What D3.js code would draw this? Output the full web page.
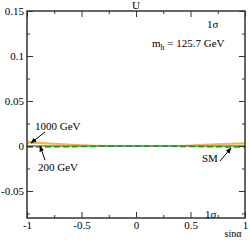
<!DOCTYPE html>
<html>
<head>
<meta charset="utf-8">
<script src="https://cdn.jsdelivr.net/npm/d3@7"></script>
<style>
  body { margin: 0; background: #fff; }
  text { font-family: "Liberation Serif", "DejaVu Serif", serif; fill: #000; }
</style>
</head>
<body>
<svg id="chart" width="250" height="240"></svg>
<script>
const sinA = [-1, -0.75, -0.5, -0.25, 0, 0.25, 0.5, 0.75, 1];
const band1000Hi = [0.0055, 0.0035, 0.002, 0.001, 0.0008, 0.001, 0.0018, 0.003, 0.0042];
const band1000Lo = [0.0025, 0.0015, 0.0008, 0.0003, 0.0002, 0.0003, 0.0007, 0.0012, 0.0018];
const line200 = [-0.0012, -0.0009, -0.0006, -0.0003, -0.0002, -0.0003, -0.0006, -0.0009, -0.0012];
const lineSM = [0, 0, 0, 0, 0, 0, 0, 0, 0];
const xMajor = [-1, -0.5, 0, 0.5, 1];
const xMinor = [-0.75, -0.25, 0.25, 0.75];
const yMajor = [-0.05, 0, 0.05, 0.1, 0.15];
const yMinor = [-0.075, -0.025, 0.025, 0.075, 0.125];

const margin = { top: 11, right: 5, bottom: 22, left: 27 };
const W = 250, H = 240;
const svg = d3.select("#chart");

const x = d3.scaleLinear().domain([-1, 1]).range([margin.left, W - margin.right]);
const y = d3.scaleLinear().domain([-0.08, 0.15]).range([H - margin.bottom, margin.top]);

const fmt = d => d === 0 ? "0" : String(d);

// data
const area = d3.area()
  .x((d, i) => x(sinA[i]))
  .y0((d, i) => y(band1000Lo[i]))
  .y1((d, i) => y(band1000Hi[i]))
  .curve(d3.curveMonotoneX);
svg.append("path").datum(sinA).attr("d", area).attr("fill", "#f5b640");

const line = arr => d3.line().x((d, i) => x(sinA[i])).y((d, i) => y(arr[i])).curve(d3.curveMonotoneX)(sinA);
svg.append("path").attr("d", line(lineSM)).attr("fill", "none").attr("stroke", "#333").attr("stroke-width", 1);
svg.append("path").attr("d", line(line200)).attr("fill", "none")
  .attr("stroke", "#1a9a1a").attr("stroke-width", 1.5).attr("stroke-dasharray", "6,3");

// axes (ticks inward)
const axisStyle = (g) => {
  g.select(".domain").remove();
  g.selectAll("line").attr("stroke", "#333");
  g.selectAll("text").attr("font-size", 11);
};
svg.append("g").attr("transform", `translate(0,${y.range()[0]})`)
  .call(d3.axisBottom(x).tickValues(xMajor).tickSize(-6).tickPadding(3).tickFormat(fmt)).call(axisStyle);
svg.append("g").attr("transform", `translate(0,${y.range()[0]})`)
  .call(d3.axisBottom(x).tickValues(xMinor).tickSize(-3).tickFormat("")).call(axisStyle);
svg.append("g").attr("transform", `translate(0,${y.range()[1]})`)
  .call(d3.axisTop(x).tickValues(xMajor).tickSize(-6).tickFormat("")).call(axisStyle);
svg.append("g").attr("transform", `translate(0,${y.range()[1]})`)
  .call(d3.axisTop(x).tickValues(xMinor).tickSize(-3).tickFormat("")).call(axisStyle);
svg.append("g").attr("transform", `translate(${x.range()[0]},0)`)
  .call(d3.axisLeft(y).tickValues(yMajor).tickSize(-6).tickPadding(3).tickFormat(fmt)).call(axisStyle);
svg.append("g").attr("transform", `translate(${x.range()[0]},0)`)
  .call(d3.axisLeft(y).tickValues(yMinor).tickSize(-3).tickFormat("")).call(axisStyle);
svg.append("g").attr("transform", `translate(${x.range()[1]},0)`)
  .call(d3.axisRight(y).tickValues(yMajor).tickSize(-6).tickFormat("")).call(axisStyle);
svg.append("g").attr("transform", `translate(${x.range()[1]},0)`)
  .call(d3.axisRight(y).tickValues(yMinor).tickSize(-3).tickFormat("")).call(axisStyle);

svg.append("rect")
  .attr("x", x.range()[0]).attr("y", y.range()[1])
  .attr("width", x.range()[1] - x.range()[0]).attr("height", y.range()[0] - y.range()[1])
  .attr("fill", "none").attr("stroke", "#333").attr("stroke-width", 1.5);

// labels
const label = (t, px, py, anchor) => svg.append("text").attr("x", px).attr("y", py)
  .attr("font-size", 11).attr("text-anchor", anchor || "start").text(t);
label("U", x(0), 9, "middle");
label("sinα", 233, 237, "middle").attr("font-size", 10);
label("1σ", 207, 28);
label("1σ", 205, 218);
const mh = svg.append("text").attr("x", 152).attr("y", 47).attr("font-size", 11);
mh.append("tspan").text("m");
mh.append("tspan").attr("font-size", 8).attr("dy", 3).text("h");
mh.append("tspan").attr("dy", -3).text(" = 125.7 GeV");
label("1000 GeV", 35, 130);
label("200 GeV", 38, 171);
label("SM", 202, 162);

svg.append("defs").append("marker").attr("id", "ah").attr("viewBox", "0 0 10 10")
  .attr("refX", 9).attr("refY", 5).attr("markerWidth", 6).attr("markerHeight", 6).attr("orient", "auto")
  .append("path").attr("d", "M0,1L10,5L0,9z").attr("fill", "#000");
const arrow = (x1, y1, x2, y2) => svg.append("line").attr("x1", x1).attr("y1", y1).attr("x2", x2).attr("y2", y2)
  .attr("stroke", "#000").attr("stroke-width", 1).attr("marker-end", "url(#ah)");
arrow(45, 132, 31, 143);
arrow(45, 160, 40, 146);
arrow(220, 161, 231, 148);
</script>
</body>
</html>
